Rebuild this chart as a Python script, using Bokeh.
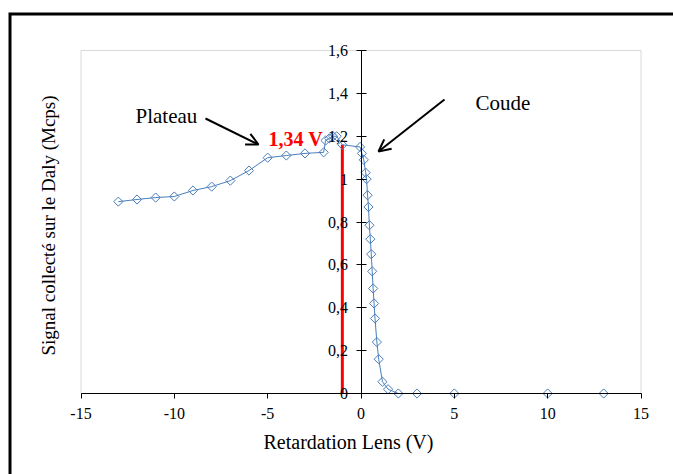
import math
from bokeh.plotting import figure
from bokeh.models import Label, Arrow, OpenHead, BoxAnnotation, FixedTicker
from bokeh.embed import file_html
from bokeh.resources import INLINE

# ---- data ----
volt = [-13, -12, -11, -10, -9, -8, -7, -6, -5, -4, -3, -2,
        -1.9, -1.7, -1.5, -1.3, -1.0,
        -0.05, 0.05, 0.15, 0.25, 0.3, 0.35, 0.4, 0.45, 0.5, 0.55, 0.6,
        0.65, 0.7, 0.75, 0.85, 0.95, 1.15, 1.45, 2, 3, 5, 10, 13]
signal = [0.895, 0.905, 0.914, 0.919, 0.947, 0.965, 0.993, 1.04, 1.10, 1.11, 1.12, 1.125,
          1.18, 1.19, 1.20, 1.20, 1.16,
          1.15, 1.12, 1.09, 1.03, 1.0, 0.925, 0.87, 0.785, 0.72, 0.65, 0.57,
          0.49, 0.42, 0.35, 0.24, 0.16, 0.055, 0.02, 0, 0, 0, 0, 0]

cut_x = [-1.0]
cut_y0 = [0.0]
cut_y1 = [1.16]
cut_text = "1,34 V"

x_ticks = [-15, -10, -5, 0, 5, 10, 15]
x_tick_labels = ["-15", "-10", "-5", "0", "5", "10", "15"]
y_ticks = [0, 0.2, 0.4, 0.6, 0.8, 1.0, 1.2, 1.4, 1.6]
y_tick_labels = ["0", "0,2", "0,4", "0,6", "0,8", "1", "1,2", "1,4", "1,6"]

x_title = "Retardation Lens (V)"
y_title = "Signal collecté sur le Daly (Mcps)"

# ---- layout ----
W, H = 673, 474
X_MIN, X_MAX = -15, 15          # plot-area limits
Y_MIN, Y_MAX = 0, 1.6
PA_LEFT, PA_RIGHT = 80.5, 640.5  # plot-area pixel edges
PA_TOP, PA_BOTTOM = 50, 393
sx = (PA_RIGHT - PA_LEFT) / (X_MAX - X_MIN)
sy = (PA_BOTTOM - PA_TOP) / (Y_MAX - Y_MIN)
xr = (X_MIN - PA_LEFT / sx, X_MAX + (W - PA_RIGHT) / sx)
yr = (Y_MIN - (H - PA_BOTTOM) / sy, Y_MAX + PA_TOP / sy)


def px_x(px):
    return X_MIN + (px - PA_LEFT) / sx


def px_y(py):
    return Y_MIN + (PA_BOTTOM - py) / sy


FONT = "Liberation Serif"
BLUE = "#4A7EBB"

p = figure(width=W, height=H, x_range=xr, y_range=yr,
           output_backend="svg", toolbar_location=None,
           min_border_left=0, min_border_right=0,
           min_border_top=0, min_border_bottom=0)
p.background_fill_color = "white"
p.border_fill_color = "white"
p.outline_line_color = None
p.xgrid.visible = False
p.ygrid.visible = False

# outer frame of the chart object (left and top edges visible)
p.line([px_x(9.5), px_x(9.5), px_x(W + 10)], [px_y(H + 10), px_y(13.5), px_y(13.5)],
       line_color="black", line_width=3, line_join="miter")

# grey plot-area box
p.add_layout(BoxAnnotation(left=X_MIN, right=X_MAX, bottom=Y_MIN, top=Y_MAX,
                           fill_alpha=0, line_color="#808080", line_width=1,
                           level="underlay"))

# x axis
xa = p.xaxis[0]
xa.fixed_location = 0
xa.bounds = (X_MIN, X_MAX)
xa.ticker = FixedTicker(ticks=x_ticks)
xa.major_label_overrides = {t: l for t, l in zip(x_ticks, x_tick_labels)}
xa.minor_tick_line_color = None
xa.major_tick_in = 0
xa.major_tick_out = 5
xa.axis_line_color = "black"
xa.major_tick_line_color = "black"
xa.major_label_text_font = FONT
xa.major_label_text_font_size = "16px"
xa.major_label_text_color = "black"
xa.major_label_standoff = 9

# y axis crossing at x = 0
ya = p.yaxis[0]
ya.fixed_location = 0
ya.bounds = (Y_MIN, Y_MAX)
ya.ticker = FixedTicker(ticks=y_ticks)
ya.major_label_overrides = {t: l for t, l in zip(y_ticks, y_tick_labels)}
ya.minor_tick_line_color = None
ya.major_tick_in = 5
ya.major_tick_out = 5
ya.axis_line_color = "black"
ya.major_tick_line_color = "black"
ya.major_label_text_font = FONT
ya.major_label_text_font_size = "16px"
ya.major_label_text_color = "black"
ya.major_label_standoff = 8

# axis titles
p.add_layout(Label(x=px_x(348), y=px_y(441), text=x_title,
                   text_align="center", text_baseline="middle",
                   text_font=FONT, text_font_size="20px", text_color="black"))
p.add_layout(Label(x=px_x(48), y=px_y(225), text=y_title, angle=math.pi / 2,
                   text_align="center", text_baseline="middle",
                   text_font=FONT, text_font_size="19px", text_color="black"))

# red cut-off line
p.segment(x0=cut_x, y0=cut_y0, x1=cut_x, y1=cut_y1, line_color="red", line_width=3)

# data series
p.line(volt, signal, line_color=BLUE, line_width=1)
p.scatter(volt, signal, marker="square", angle=math.pi / 4, size=6.5,
          fill_color="white", fill_alpha=0, line_color=BLUE, line_width=1)

# annotations
p.add_layout(Label(x=px_x(268), y=px_y(138), text=cut_text, text_font=FONT,
                   text_font_size="20px", text_font_style="bold", text_color="red",
                   text_baseline="alphabetic"))
p.add_layout(Label(x=px_x(135), y=px_y(115), text="Plateau", text_font=FONT,
                   text_font_size="21px", text_color="black", text_baseline="alphabetic"))
p.add_layout(Label(x=px_x(475), y=px_y(102), text="Coude", text_font=FONT,
                   text_font_size="21px", text_color="black", text_baseline="alphabetic"))
p.add_layout(Arrow(x_start=px_x(205), y_start=px_y(118), x_end=px_x(258), y_end=px_y(144),
                   line_color="black", line_width=2,
                   end=OpenHead(size=12, line_width=2, line_color="black")))
p.add_layout(Arrow(x_start=px_x(444), y_start=px_y(99), x_end=px_x(378), y_end=px_y(151),
                   line_color="black", line_width=2,
                   end=OpenHead(size=12, line_width=2, line_color="black")))

open("out.html", "w").write(file_html(p, INLINE))
